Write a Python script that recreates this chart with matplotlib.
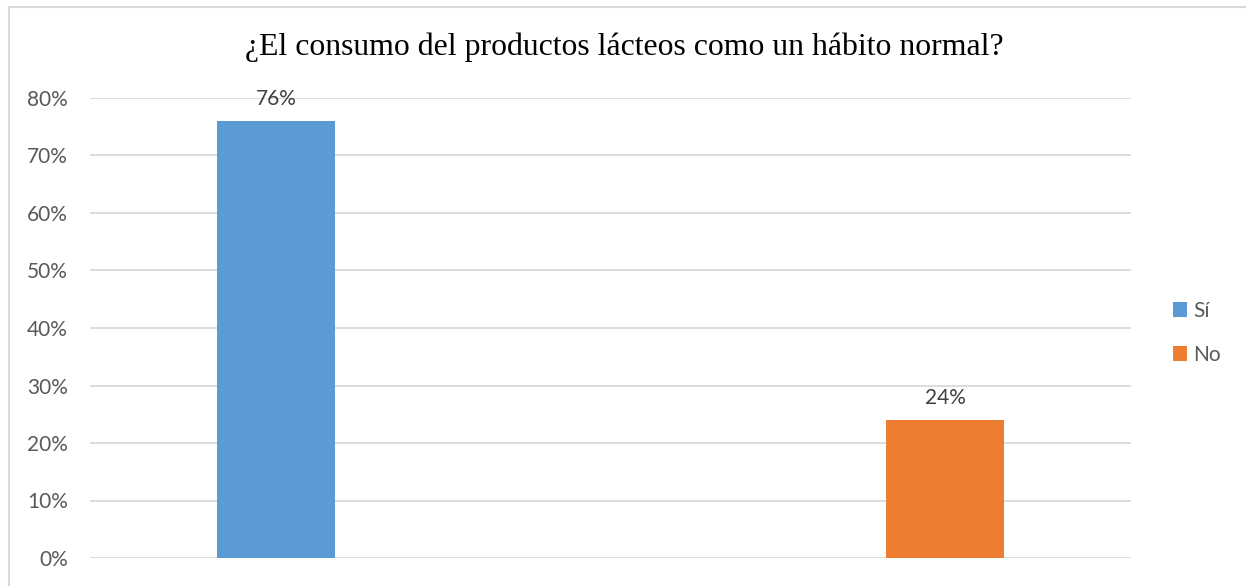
import matplotlib.pyplot as plt
from matplotlib.patches import Rectangle
from matplotlib.ticker import PercentFormatter

# Survey answers
categories = ['Sí', 'No']
values = [76, 24]
colors = ['#5B9BD5', '#ED7D31']
title = '¿El consumo del productos lácteos como un hábito normal?'

W, H = 1246, 586
fig = plt.figure(figsize=(W / 100, H / 100), dpi=100)
ax = fig.add_axes([90 / W, (H - 558) / H, (1131 - 90) / W, (558 - 98) / H])

# clustered layout: each series keeps its own slot inside the category
offsets = [-0.143, 0.143]
width = 0.227
for i, (cat, val, col) in enumerate(zip(categories, values, colors)):
    ax.bar(i + offsets[i], val, width=width, color=col, label=cat, zorder=3)
    ax.text(i + offsets[i], val + 3.9, f'{val}%', ha='center', va='center',
            fontsize=15, color='#404040', family='Lato')

ax.set_xlim(-0.5, 1.5)
ax.set_ylim(0, 80)
ax.set_yticks(range(0, 81, 10))
ax.yaxis.set_major_formatter(PercentFormatter(decimals=0))
ax.set_xticks([])
ax.grid(axis='y', color='#D9D9D9', linewidth=1.3, zorder=0)
for s in ax.spines.values():
    s.set_visible(False)
ax.tick_params(axis='y', length=0, pad=16, labelsize=15, labelcolor='#595959')
for lbl in ax.get_yticklabels():
    lbl.set_family('Lato')

fig.text(624 / W, 1 - 47 / H, title, ha='center', va='center',
         fontsize=22.9, family='Liberation Serif', color='black')

leg = ax.legend(loc='center left', bbox_to_anchor=(1.022, 0.49), frameon=False,
                prop={'family': 'Lato', 'size': 15}, handlelength=0.7,
                handleheight=0.7, handletextpad=0.3, labelspacing=1.15)
for t in leg.get_texts():
    t.set_color('#595959')

# chart frame (only top and left edges fall inside the image)
fig.patches.append(Rectangle((9 / W, -0.1), 1.2, 1 - 6.5 / H + 0.1,
                             transform=fig.transFigure, fill=False,
                             edgecolor='#D9D9D9', linewidth=1.5))

fig.savefig('out.png', dpi=100)
